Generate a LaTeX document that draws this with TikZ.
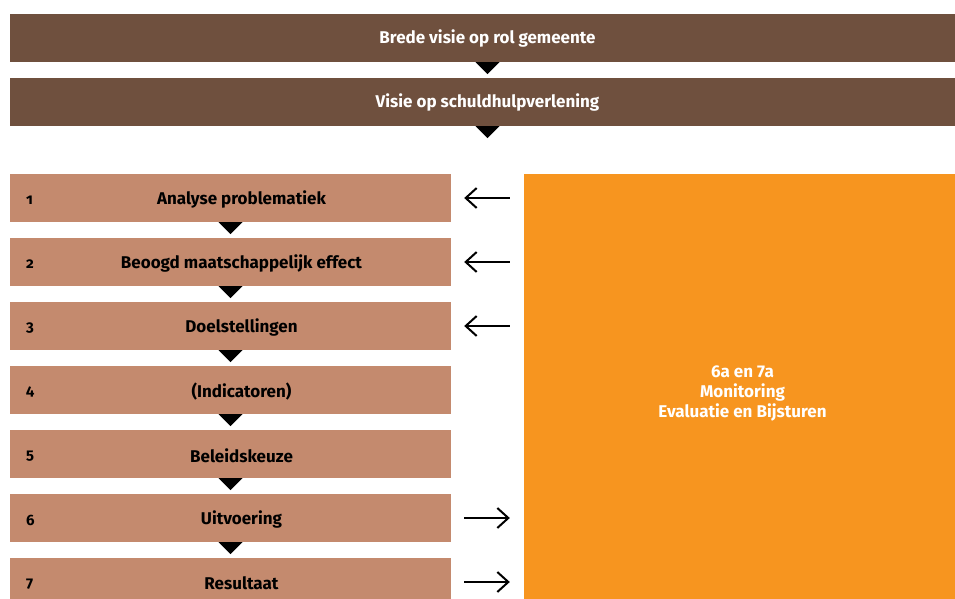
\documentclass[tikz,border=0pt]{standalone}
\usepackage{fontspec}
\setmainfont{Fira Sans}
\newfontfamily\stapnummer[Numbers=OldStyle]{Fira Sans}
\usepackage{xcolor}
\usetikzlibrary{arrows.meta}
\usetikzlibrary{positioning}

\definecolor{donkerbruin}{HTML}{6F503E}
\definecolor{lichtbruin}{HTML}{C48A6E}
\definecolor{oranje}{HTML}{F7951F}

\tikzset{
  balk/.style={fill=donkerbruin, text=white, minimum width=955pt, minimum height=48pt,
    inner sep=0pt, font=\bfseries\fontsize{17}{20}\selectfont},
  stap/.style={fill=lichtbruin, minimum width=441pt, minimum height=48pt, inner sep=0pt},
  staptekst/.style={font=\bfseries\fontsize{17}{20}\selectfont},
  nummer/.style={anchor=west, inner sep=0pt, font=\stapnummer\bfseries\fontsize{15}{18}\selectfont},
  pijl/.style={line width=2pt, shorten <=13pt, shorten >=14pt}
}

\begin{document}
\begin{tikzpicture}[x=1pt,y=-1pt,>={Straight Barb[length=11pt,width=20pt,line width=2pt]}]
  \useasboundingbox (0,0) rectangle (955,599);

  \node[balk] (rol) at (487.5,38) {Brede visie op rol gemeente};
  \node[balk] (visie) at (487.5,102) {Visie op schuldhulpverlening};
  \foreach \b in {rol,visie}
    \fill ([xshift=-12pt]\b.south) -- ([xshift=12pt]\b.south) -- ([yshift=-12pt]\b.south) -- cycle;

  \node[fill=oranje, minimum width=431pt, minimum height=434pt, inner sep=0pt] (mon) at (739.5,391) {};
  \node[text=white, align=center, font=\bfseries\fontsize{17}{20}\selectfont] (montekst) at ([xshift=3pt,yshift=-3pt]mon.center)
    {6a en 7a\\Monitoring\\Evaluatie en Bijsturen};

  \foreach \n/\tekst in {1/Analyse problematiek, 2/Beoogd maatschappelijk effect,
      3/Doelstellingen, 4/(Indicatoren), 5/Beleidskeuze, 6/Uitvoering, 7/Resultaat} {
    \node[stap] (s\n) at (230.5,{198+64*(\n-1)}) {};
    \node[nummer] (n\n) at ([xshift=16pt,yshift=-2pt]s\n.west) {\n};
    \node[staptekst] (t\n) at ([xshift=11pt,yshift=-1.5pt]s\n.center) {\tekst};
  }
  \foreach \n in {1,...,6}
    \fill ([xshift=-12pt]s\n.south) -- ([xshift=12pt]s\n.south) -- ([yshift=-12pt]s\n.south) -- cycle;

  \foreach \n in {1,2,3}
    \draw[<-, pijl] (s\n.east) -- (s\n.east -| mon.west);
  \foreach \n in {6,7}
    \draw[->, pijl] (s\n.east) -- (s\n.east -| mon.west);
\end{tikzpicture}
\end{document}
